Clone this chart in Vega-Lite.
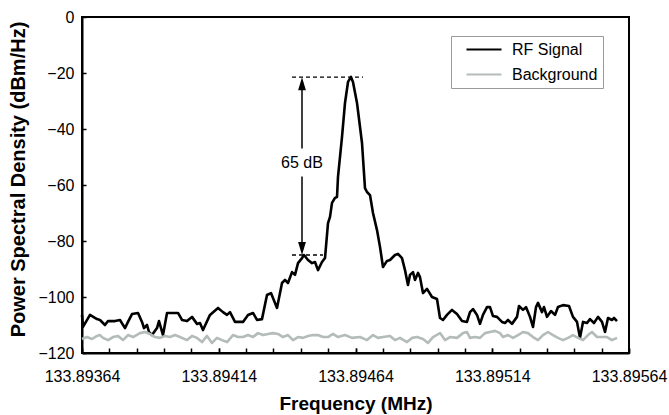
{
  "$schema": "https://vega.github.io/schema/vega-lite/v6.json",
  "width": 547,
  "height": 336,
  "autosize": {"type": "none"},
  "padding": {"left": 82, "top": 17, "right": 40, "bottom": 62},
  "background": "white",
  "config": {
    "font": "Liberation Sans",
    "view": {"stroke": "black", "strokeWidth": 2},
    "axis": {"domainColor": "black", "domainWidth": 2, "tickColor": "black", "tickWidth": 1.5, "labelColor": "black", "titleColor": "black", "labelFont": "Liberation Sans", "titleFont": "Liberation Sans", "grid": false, "labelFontSize": 16, "titleFontSize": 19, "titleFontWeight": "bold"}
  },
  "resolve": {"axis": {"x": "independent"}},
  "datasets": {
    "spectra": [
      {"freq": 133.89364, "psd": -106.4, "series": "RF Signal"},
      {"freq": 133.8936437, "psd": -110.7, "series": "RF Signal"},
      {"freq": 133.8936692, "psd": -106.4, "series": "RF Signal"},
      {"freq": 133.8936948, "psd": -107.9, "series": "RF Signal"},
      {"freq": 133.8937058, "psd": -108.2, "series": "RF Signal"},
      {"freq": 133.8937241, "psd": -110.0, "series": "RF Signal"},
      {"freq": 133.8937351, "psd": -108.6, "series": "RF Signal"},
      {"freq": 133.8937607, "psd": -108.6, "series": "RF Signal"},
      {"freq": 133.8937789, "psd": -108.2, "series": "RF Signal"},
      {"freq": 133.8937972, "psd": -111.1, "series": "RF Signal"},
      {"freq": 133.8938082, "psd": -108.9, "series": "RF Signal"},
      {"freq": 133.8938228, "psd": -106.1, "series": "RF Signal"},
      {"freq": 133.8938448, "psd": -105.7, "series": "RF Signal"},
      {"freq": 133.8938594, "psd": -108.9, "series": "RF Signal"},
      {"freq": 133.8938667, "psd": -111.1, "series": "RF Signal"},
      {"freq": 133.8938777, "psd": -110.0, "series": "RF Signal"},
      {"freq": 133.893885, "psd": -112.5, "series": "RF Signal"},
      {"freq": 133.8938959, "psd": -113.6, "series": "RF Signal"},
      {"freq": 133.8939142, "psd": -111.1, "series": "RF Signal"},
      {"freq": 133.8939215, "psd": -108.6, "series": "RF Signal"},
      {"freq": 133.8939362, "psd": -113.6, "series": "RF Signal"},
      {"freq": 133.8939508, "psd": -105.7, "series": "RF Signal"},
      {"freq": 133.8939727, "psd": -105.7, "series": "RF Signal"},
      {"freq": 133.893991, "psd": -105.7, "series": "RF Signal"},
      {"freq": 133.8940056, "psd": -108.2, "series": "RF Signal"},
      {"freq": 133.8940239, "psd": -108.6, "series": "RF Signal"},
      {"freq": 133.8940422, "psd": -107.1, "series": "RF Signal"},
      {"freq": 133.8940605, "psd": -109.6, "series": "RF Signal"},
      {"freq": 133.8940714, "psd": -109.3, "series": "RF Signal"},
      {"freq": 133.8940824, "psd": -111.8, "series": "RF Signal"},
      {"freq": 133.894108, "psd": -106.4, "series": "RF Signal"},
      {"freq": 133.8941373, "psd": -103.9, "series": "RF Signal"},
      {"freq": 133.8941555, "psd": -105.4, "series": "RF Signal"},
      {"freq": 133.8941702, "psd": -106.4, "series": "RF Signal"},
      {"freq": 133.8941811, "psd": -105.4, "series": "RF Signal"},
      {"freq": 133.8941994, "psd": -108.9, "series": "RF Signal"},
      {"freq": 133.8942287, "psd": -108.9, "series": "RF Signal"},
      {"freq": 133.894247, "psd": -106.4, "series": "RF Signal"},
      {"freq": 133.8942652, "psd": -105.7, "series": "RF Signal"},
      {"freq": 133.8942799, "psd": -108.2, "series": "RF Signal"},
      {"freq": 133.8942981, "psd": -107.9, "series": "RF Signal"},
      {"freq": 133.8943164, "psd": -99.3, "series": "RF Signal"},
      {"freq": 133.894331, "psd": -98.6, "series": "RF Signal"},
      {"freq": 133.894353, "psd": -103.9, "series": "RF Signal"},
      {"freq": 133.8943713, "psd": -95.0, "series": "RF Signal"},
      {"freq": 133.8943822, "psd": -93.9, "series": "RF Signal"},
      {"freq": 133.8943932, "psd": -95.0, "series": "RF Signal"},
      {"freq": 133.8944078, "psd": -91.1, "series": "RF Signal"},
      {"freq": 133.8944188, "psd": -92.1, "series": "RF Signal"},
      {"freq": 133.8944298, "psd": -87.9, "series": "RF Signal"},
      {"freq": 133.8944444, "psd": -86.1, "series": "RF Signal"},
      {"freq": 133.8944517, "psd": -85.0, "series": "RF Signal"},
      {"freq": 133.8944663, "psd": -86.8, "series": "RF Signal"},
      {"freq": 133.894481, "psd": -87.9, "series": "RF Signal"},
      {"freq": 133.8944919, "psd": -87.5, "series": "RF Signal"},
      {"freq": 133.8945029, "psd": -90.4, "series": "RF Signal"},
      {"freq": 133.8945175, "psd": -87.5, "series": "RF Signal"},
      {"freq": 133.8945285, "psd": -86.1, "series": "RF Signal"},
      {"freq": 133.8945395, "psd": -73.6, "series": "RF Signal"},
      {"freq": 133.8945468, "psd": -71.4, "series": "RF Signal"},
      {"freq": 133.8945541, "psd": -66.4, "series": "RF Signal"},
      {"freq": 133.894565, "psd": -64.6, "series": "RF Signal"},
      {"freq": 133.8945724, "psd": -64.3, "series": "RF Signal"},
      {"freq": 133.894576, "psd": -57.1, "series": "RF Signal"},
      {"freq": 133.8945906, "psd": -42.9, "series": "RF Signal"},
      {"freq": 133.8946016, "psd": -30.7, "series": "RF Signal"},
      {"freq": 133.8946126, "psd": -23.2, "series": "RF Signal"},
      {"freq": 133.8946235, "psd": -21.4, "series": "RF Signal"},
      {"freq": 133.8946308, "psd": -23.2, "series": "RF Signal"},
      {"freq": 133.8946455, "psd": -30.7, "series": "RF Signal"},
      {"freq": 133.8946638, "psd": -45.0, "series": "RF Signal"},
      {"freq": 133.8946747, "psd": -61.1, "series": "RF Signal"},
      {"freq": 133.894682, "psd": -62.5, "series": "RF Signal"},
      {"freq": 133.894693, "psd": -63.6, "series": "RF Signal"},
      {"freq": 133.894704, "psd": -70.0, "series": "RF Signal"},
      {"freq": 133.8947186, "psd": -76.1, "series": "RF Signal"},
      {"freq": 133.8947296, "psd": -82.1, "series": "RF Signal"},
      {"freq": 133.8947405, "psd": -89.3, "series": "RF Signal"},
      {"freq": 133.8947552, "psd": -87.1, "series": "RF Signal"},
      {"freq": 133.8947661, "psd": -86.8, "series": "RF Signal"},
      {"freq": 133.8947844, "psd": -85.0, "series": "RF Signal"},
      {"freq": 133.8947954, "psd": -84.6, "series": "RF Signal"},
      {"freq": 133.89481, "psd": -86.1, "series": "RF Signal"},
      {"freq": 133.894821, "psd": -90.4, "series": "RF Signal"},
      {"freq": 133.8948319, "psd": -95.7, "series": "RF Signal"},
      {"freq": 133.8948392, "psd": -92.1, "series": "RF Signal"},
      {"freq": 133.8948502, "psd": -91.1, "series": "RF Signal"},
      {"freq": 133.8948575, "psd": -93.9, "series": "RF Signal"},
      {"freq": 133.8948685, "psd": -91.4, "series": "RF Signal"},
      {"freq": 133.8948758, "psd": -92.9, "series": "RF Signal"},
      {"freq": 133.8948868, "psd": -98.6, "series": "RF Signal"},
      {"freq": 133.8949014, "psd": -97.1, "series": "RF Signal"},
      {"freq": 133.8949197, "psd": -100.0, "series": "RF Signal"},
      {"freq": 133.894938, "psd": -100.7, "series": "RF Signal"},
      {"freq": 133.8949489, "psd": -107.5, "series": "RF Signal"},
      {"freq": 133.8949599, "psd": -108.2, "series": "RF Signal"},
      {"freq": 133.8949745, "psd": -106.4, "series": "RF Signal"},
      {"freq": 133.8949928, "psd": -104.6, "series": "RF Signal"},
      {"freq": 133.8950111, "psd": -106.1, "series": "RF Signal"},
      {"freq": 133.8950294, "psd": -108.6, "series": "RF Signal"},
      {"freq": 133.8950476, "psd": -108.9, "series": "RF Signal"},
      {"freq": 133.8950586, "psd": -105.4, "series": "RF Signal"},
      {"freq": 133.8950696, "psd": -104.3, "series": "RF Signal"},
      {"freq": 133.8950842, "psd": -106.4, "series": "RF Signal"},
      {"freq": 133.8950952, "psd": -109.6, "series": "RF Signal"},
      {"freq": 133.8951061, "psd": -106.4, "series": "RF Signal"},
      {"freq": 133.8951208, "psd": -103.6, "series": "RF Signal"},
      {"freq": 133.8951318, "psd": -103.6, "series": "RF Signal"},
      {"freq": 133.8951427, "psd": -106.8, "series": "RF Signal"},
      {"freq": 133.8951574, "psd": -107.1, "series": "RF Signal"},
      {"freq": 133.8951756, "psd": -108.9, "series": "RF Signal"},
      {"freq": 133.8951866, "psd": -109.3, "series": "RF Signal"},
      {"freq": 133.8951976, "psd": -108.2, "series": "RF Signal"},
      {"freq": 133.8952122, "psd": -109.6, "series": "RF Signal"},
      {"freq": 133.8952305, "psd": -107.1, "series": "RF Signal"},
      {"freq": 133.8952378, "psd": -103.2, "series": "RF Signal"},
      {"freq": 133.8952524, "psd": -104.6, "series": "RF Signal"},
      {"freq": 133.8952634, "psd": -103.6, "series": "RF Signal"},
      {"freq": 133.895278, "psd": -107.1, "series": "RF Signal"},
      {"freq": 133.895289, "psd": -110.7, "series": "RF Signal"},
      {"freq": 133.8953, "psd": -103.6, "series": "RF Signal"},
      {"freq": 133.8953073, "psd": -102.1, "series": "RF Signal"},
      {"freq": 133.8953219, "psd": -105.4, "series": "RF Signal"},
      {"freq": 133.8953292, "psd": -103.6, "series": "RF Signal"},
      {"freq": 133.8953402, "psd": -107.1, "series": "RF Signal"},
      {"freq": 133.8953548, "psd": -105.0, "series": "RF Signal"},
      {"freq": 133.8953694, "psd": -106.4, "series": "RF Signal"},
      {"freq": 133.8953804, "psd": -103.6, "series": "RF Signal"},
      {"freq": 133.8953987, "psd": -102.9, "series": "RF Signal"},
      {"freq": 133.8954206, "psd": -103.2, "series": "RF Signal"},
      {"freq": 133.8954352, "psd": -107.1, "series": "RF Signal"},
      {"freq": 133.8954499, "psd": -108.9, "series": "RF Signal"},
      {"freq": 133.8954608, "psd": -114.6, "series": "RF Signal"},
      {"freq": 133.8954718, "psd": -108.9, "series": "RF Signal"},
      {"freq": 133.8954864, "psd": -109.3, "series": "RF Signal"},
      {"freq": 133.8954974, "psd": -107.9, "series": "RF Signal"},
      {"freq": 133.895512, "psd": -109.3, "series": "RF Signal"},
      {"freq": 133.8955267, "psd": -107.1, "series": "RF Signal"},
      {"freq": 133.8955413, "psd": -108.9, "series": "RF Signal"},
      {"freq": 133.8955523, "psd": -112.5, "series": "RF Signal"},
      {"freq": 133.8955632, "psd": -107.5, "series": "RF Signal"},
      {"freq": 133.8955778, "psd": -108.2, "series": "RF Signal"},
      {"freq": 133.8955852, "psd": -107.5, "series": "RF Signal"},
      {"freq": 133.8955961, "psd": -108.6, "series": "RF Signal"},
      {"freq": 133.89364, "psd": -115.0, "series": "Background"},
      {"freq": 133.8936583, "psd": -114.3, "series": "Background"},
      {"freq": 133.8936766, "psd": -115.0, "series": "Background"},
      {"freq": 133.8936948, "psd": -113.9, "series": "Background"},
      {"freq": 133.8937058, "psd": -113.6, "series": "Background"},
      {"freq": 133.8937168, "psd": -114.6, "series": "Background"},
      {"freq": 133.8937351, "psd": -115.4, "series": "Background"},
      {"freq": 133.8937533, "psd": -114.3, "series": "Background"},
      {"freq": 133.8937716, "psd": -113.9, "series": "Background"},
      {"freq": 133.8937899, "psd": -115.4, "series": "Background"},
      {"freq": 133.8938082, "psd": -113.6, "series": "Background"},
      {"freq": 133.8938265, "psd": -114.3, "series": "Background"},
      {"freq": 133.8938521, "psd": -112.9, "series": "Background"},
      {"freq": 133.8938704, "psd": -112.5, "series": "Background"},
      {"freq": 133.8938886, "psd": -113.2, "series": "Background"},
      {"freq": 133.8939069, "psd": -114.3, "series": "Background"},
      {"freq": 133.8939252, "psd": -114.6, "series": "Background"},
      {"freq": 133.8939435, "psd": -113.9, "series": "Background"},
      {"freq": 133.8939618, "psd": -114.3, "series": "Background"},
      {"freq": 133.89398, "psd": -113.6, "series": "Background"},
      {"freq": 133.8939983, "psd": -114.3, "series": "Background"},
      {"freq": 133.8940239, "psd": -115.4, "series": "Background"},
      {"freq": 133.8940422, "psd": -113.9, "series": "Background"},
      {"freq": 133.8940605, "psd": -114.6, "series": "Background"},
      {"freq": 133.8940788, "psd": -116.1, "series": "Background"},
      {"freq": 133.894097, "psd": -113.9, "series": "Background"},
      {"freq": 133.8941153, "psd": -116.4, "series": "Background"},
      {"freq": 133.8941336, "psd": -114.6, "series": "Background"},
      {"freq": 133.8941519, "psd": -115.4, "series": "Background"},
      {"freq": 133.8941702, "psd": -116.1, "series": "Background"},
      {"freq": 133.8941921, "psd": -113.6, "series": "Background"},
      {"freq": 133.8942104, "psd": -114.3, "series": "Background"},
      {"freq": 133.8942287, "psd": -114.3, "series": "Background"},
      {"freq": 133.8942469, "psd": -113.6, "series": "Background"},
      {"freq": 133.8942652, "psd": -114.3, "series": "Background"},
      {"freq": 133.8942835, "psd": -112.9, "series": "Background"},
      {"freq": 133.8943018, "psd": -113.6, "series": "Background"},
      {"freq": 133.8943201, "psd": -113.2, "series": "Background"},
      {"freq": 133.8943384, "psd": -112.9, "series": "Background"},
      {"freq": 133.8943566, "psd": -113.2, "series": "Background"},
      {"freq": 133.8943749, "psd": -114.3, "series": "Background"},
      {"freq": 133.8943932, "psd": -113.6, "series": "Background"},
      {"freq": 133.8944115, "psd": -115.4, "series": "Background"},
      {"freq": 133.8944298, "psd": -114.3, "series": "Background"},
      {"freq": 133.894448, "psd": -114.6, "series": "Background"},
      {"freq": 133.8944663, "psd": -113.9, "series": "Background"},
      {"freq": 133.8944846, "psd": -113.6, "series": "Background"},
      {"freq": 133.8945029, "psd": -113.6, "series": "Background"},
      {"freq": 133.8945212, "psd": -114.3, "series": "Background"},
      {"freq": 133.8945395, "psd": -114.3, "series": "Background"},
      {"freq": 133.8945577, "psd": -113.2, "series": "Background"},
      {"freq": 133.894576, "psd": -114.3, "series": "Background"},
      {"freq": 133.8946016, "psd": -113.6, "series": "Background"},
      {"freq": 133.8946272, "psd": -114.6, "series": "Background"},
      {"freq": 133.8946565, "psd": -114.3, "series": "Background"},
      {"freq": 133.894682, "psd": -115.4, "series": "Background"},
      {"freq": 133.894704, "psd": -113.6, "series": "Background"},
      {"freq": 133.8947223, "psd": -114.6, "series": "Background"},
      {"freq": 133.8947405, "psd": -114.3, "series": "Background"},
      {"freq": 133.8947661, "psd": -113.9, "series": "Background"},
      {"freq": 133.8947844, "psd": -115.4, "series": "Background"},
      {"freq": 133.8948027, "psd": -114.6, "series": "Background"},
      {"freq": 133.8948283, "psd": -116.1, "series": "Background"},
      {"freq": 133.8948466, "psd": -114.6, "series": "Background"},
      {"freq": 133.8948649, "psd": -114.3, "series": "Background"},
      {"freq": 133.8948868, "psd": -115.0, "series": "Background"},
      {"freq": 133.8949051, "psd": -116.4, "series": "Background"},
      {"freq": 133.8949234, "psd": -114.3, "series": "Background"},
      {"freq": 133.894949, "psd": -112.9, "series": "Background"},
      {"freq": 133.8949672, "psd": -115.4, "series": "Background"},
      {"freq": 133.8949855, "psd": -114.3, "series": "Background"},
      {"freq": 133.8950111, "psd": -114.6, "series": "Background"},
      {"freq": 133.8950331, "psd": -112.9, "series": "Background"},
      {"freq": 133.8950477, "psd": -112.5, "series": "Background"},
      {"freq": 133.8950586, "psd": -114.6, "series": "Background"},
      {"freq": 133.8950769, "psd": -114.3, "series": "Background"},
      {"freq": 133.8950952, "psd": -114.6, "series": "Background"},
      {"freq": 133.8951135, "psd": -112.9, "series": "Background"},
      {"freq": 133.8951318, "psd": -112.5, "series": "Background"},
      {"freq": 133.8951501, "psd": -112.1, "series": "Background"},
      {"freq": 133.8951683, "psd": -112.9, "series": "Background"},
      {"freq": 133.8951793, "psd": -114.3, "series": "Background"},
      {"freq": 133.8951976, "psd": -113.6, "series": "Background"},
      {"freq": 133.8952159, "psd": -114.6, "series": "Background"},
      {"freq": 133.8952342, "psd": -113.6, "series": "Background"},
      {"freq": 133.8952524, "psd": -112.5, "series": "Background"},
      {"freq": 133.8952707, "psd": -112.9, "series": "Background"},
      {"freq": 133.895289, "psd": -114.3, "series": "Background"},
      {"freq": 133.8953073, "psd": -115.4, "series": "Background"},
      {"freq": 133.8953256, "psd": -113.6, "series": "Background"},
      {"freq": 133.8953438, "psd": -112.5, "series": "Background"},
      {"freq": 133.8953621, "psd": -113.6, "series": "Background"},
      {"freq": 133.8953804, "psd": -114.6, "series": "Background"},
      {"freq": 133.8953987, "psd": -115.4, "series": "Background"},
      {"freq": 133.895417, "psd": -114.6, "series": "Background"},
      {"freq": 133.8954352, "psd": -113.6, "series": "Background"},
      {"freq": 133.8954535, "psd": -114.6, "series": "Background"},
      {"freq": 133.8954718, "psd": -115.4, "series": "Background"},
      {"freq": 133.8954901, "psd": -113.6, "series": "Background"},
      {"freq": 133.8955047, "psd": -112.5, "series": "Background"},
      {"freq": 133.895523, "psd": -114.3, "series": "Background"},
      {"freq": 133.8955413, "psd": -114.3, "series": "Background"},
      {"freq": 133.8955596, "psd": -114.3, "series": "Background"},
      {"freq": 133.8955778, "psd": -115.4, "series": "Background"},
      {"freq": 133.8955961, "psd": -114.6, "series": "Background"}
    ],
    "dashes": [
      {"f1": 133.8944078, "f2": 133.8946674, "level": -21.5},
      {"f1": 133.8944078, "f2": 133.8945212, "level": -85.0}
    ],
    "shaft": [
      {"f": 133.8944444, "d1": -23.0, "d2": -47.0},
      {"f": 133.8944444, "d1": -57.0, "d2": -83.0}
    ],
    "heads": [
      {"f": 133.8944444, "d": -23.8, "dir": "up"},
      {"f": 133.8944444, "d": -82.7, "dir": "down"}
    ],
    "label": [
      {"f": 133.8944444, "d": -52.0, "text": "65 dB"}
    ]
  },
  "layer": [
    {
      "data": {"name": "spectra"},
      "mark": {"type": "line", "strokeWidth": 2.6, "interpolate": "linear", "strokeJoin": "round"},
      "encoding": {
        "x": {
          "field": "freq", "type": "quantitative",
          "scale": {"domain": [133.89364, 133.89564], "nice": false, "zero": false},
          "axis": {
            "orient": "bottom",
            "title": "Frequency (MHz)",
            "values": [133.89364, 133.89414, 133.89464, 133.89514, 133.89564],
            "format": ".5f",
            "labelFlush": false,
            "labelOverlap": false,
            "labelBound": false,
            "tickSize": -5,
            "labelPadding": 20,
            "titlePadding": 10
          }
        },
        "y": {
          "field": "psd", "type": "quantitative",
          "scale": {"domain": [-120, 0], "nice": false, "zero": false},
          "axis": {
            "title": "Power Spectral Density (dBm/Hz)",
            "titleFontSize": 20,
            "values": [-120, -100, -80, -60, -40, -20, 0],
            "tickSize": -4,
            "labelPadding": 12,
            "titleX": -58,
            "titleY": 162,
            "titleAlign": "center",
            "titleBaseline": "alphabetic",
            "labelFlush": false
          }
        },
        "color": {
          "field": "series", "type": "nominal",
          "scale": {"domain": ["RF Signal", "Background"], "range": ["#000000", "#b3bcb8"]},
          "legend": {
            "orient": "none", "legendX": 369, "legendY": 19, "title": null,
            "strokeColor": "#9a9a9a", "fillColor": "white", "padding": 5,
            "symbolType": "M-2.5,0L2.5,0", "symbolSize": 196, "symbolStrokeWidth": 2.2,
            "symbolOffset": 19.5, "labelOffset": 19.5, "labelFontSize": 16, "labelColor": "black",
            "labelExpr": "datum.label + '   '",
            "rowPadding": 8
          }
        }
      }
    },
    {
      "data": {"name": "dashes"},
      "mark": {"type": "rule", "color": "black", "strokeWidth": 1.3, "strokeDash": [4, 3]},
      "encoding": {
        "x": {
          "field": "f1", "type": "quantitative",
          "axis": {
            "orient": "bottom",
            "title": null,
            "labels": false,
            "domain": false,
            "values": [133.89364, 133.89374, 133.89384, 133.89394, 133.89404, 133.89414, 133.89424, 133.89434, 133.89444, 133.89454, 133.89464, 133.89474, 133.89484, 133.89494, 133.89504, 133.89514, 133.89524, 133.89534, 133.89544, 133.89554, 133.89564],
            "tickSize": -5
          }
        },
        "x2": {"field": "f2"},
        "y": {"field": "level", "type": "quantitative"}
      }
    },
    {
      "data": {"name": "shaft"},
      "mark": {"type": "rule", "color": "black", "strokeWidth": 1.5},
      "encoding": {
        "x": {"field": "f", "type": "quantitative", "axis": null},
        "y": {"field": "d1", "type": "quantitative"},
        "y2": {"field": "d2"}
      }
    },
    {
      "data": {"name": "heads"},
      "mark": {"type": "point", "filled": true, "color": "black", "opacity": 1, "size": 169},
      "encoding": {
        "x": {"field": "f", "type": "quantitative", "axis": null},
        "y": {"field": "d", "type": "quantitative"},
        "shape": {
          "field": "dir", "type": "nominal",
          "scale": {"domain": ["up", "down"], "range": ["M0,-1L0.6,1L-0.6,1Z", "M0,1L0.6,-1L-0.6,-1Z"]},
          "legend": null
        }
      }
    },
    {
      "data": {"name": "label"},
      "mark": {"type": "text", "fontSize": 16, "align": "center", "baseline": "middle", "color": "black", "font": "Liberation Sans"},
      "encoding": {
        "x": {"field": "f", "type": "quantitative", "axis": null},
        "y": {"field": "d", "type": "quantitative"},
        "text": {"field": "text"}
      }
    }
  ]
}
